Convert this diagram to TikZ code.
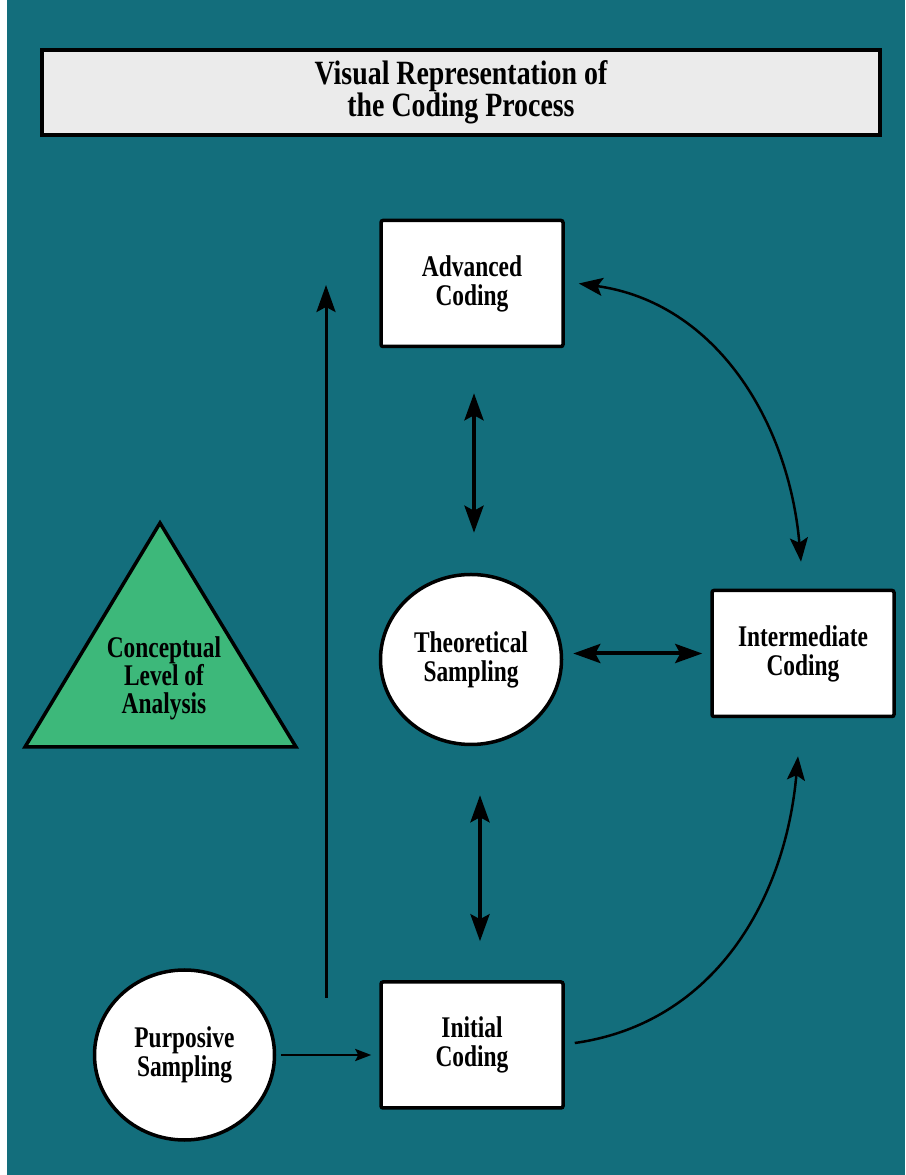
\documentclass[tikz,border=0pt]{standalone}
\usepackage{fontspec}
\setmainfont{Liberation Serif}[FakeStretch=0.78]
\newfontfamily\titlefont{Liberation Serif}[FakeStretch=0.82]
\usetikzlibrary{arrows.meta, positioning, shapes.geometric}

\definecolor{deepteal}{RGB}{19,110,124}
\definecolor{conceptgreen}{RGB}{61,184,122}
\definecolor{titlegray}{RGB}{235,235,235}

\tikzset{
  stage/.style={draw, line width=3.5pt, fill=white, rounded corners=2pt,
    minimum width=182pt, minimum height=126pt, align=center,
    font=\fontsize{30}{29}\selectfont\bfseries},
  sampling/.style={ellipse, draw, line width=3.5pt, fill=white,
    minimum width=181pt, minimum height=170pt, inner sep=0pt, align=center,
    font=\fontsize{30}{29}\selectfont\bfseries},
  dbl/.style={<->, line width=4pt},
  curved/.style={line width=2.5pt, >={Stealth[length=24pt,width=18pt,inset=5pt]}}
}

\begin{document}
\begin{tikzpicture}[x=1pt, y=1pt, >={Stealth[length=27pt,width=19pt,inset=5pt]}]

% define the background
  \fill[white] (0,0) rectangle (905,1175);
  \fill[deepteal] (7,0) rectangle (905,1175);
  \useasboundingbox (0,0) rectangle (905,1175);

% define the title
  \node[draw, line width=3.5pt, fill=titlegray, minimum width=838pt, minimum height=85pt,
        align=center, font=\titlefont\fontsize{34}{29}\selectfont\bfseries] (title)
        at (461,1082.5) {Visual Representation of\\the Coding Process};

% define the stages
  \node[stage]    (init)  at (472,130)
{Initial\\Coding};
  \node[sampling] (theo)  [above=234pt of init, xshift=-1pt]
{Theoretical\\Sampling};
  \node[stage]    (adv)   [above=632pt of init]
{Advanced\\Coding};
  \node[stage]    (inter) [right=147pt of theo, yshift=6pt]
{Intermediate\\Coding};
  \node[sampling, minimum width=180pt] (purp) [left=103pt of init, yshift=-10pt]
{Purposive\\Sampling};

% define the triangle
  \filldraw[fill=conceptgreen, line width=3.5pt, line join=miter]
    (25,428) -- (160,652) -- (296,428) -- cycle;
  \node[align=center, font=\fontsize{30}{28}\selectfont\bfseries] (concept) at (164,497)
{Conceptual\\Level of\\Analysis};

% define the rising arrow
  \coordinate (rise0) at (326,177);
  \coordinate (rise1) at (326,890);

% define the links
  \draw[->, line width=3pt] (rise0) -- (rise1);
  \draw[dbl, shorten <=45pt, shorten >=40pt] ([xshift=2pt]adv.south) -- ([xshift=3pt]theo.north);
  \draw[dbl, shorten <=10pt, shorten >=8pt] (theo.east |- inter.west) -- (inter.west);
  \draw[dbl, shorten <=49pt, shorten >=39pt] ([xshift=9pt]theo.south) -- ([xshift=8pt]init.north);
  \draw[-{Stealth[length=16pt,width=12pt,inset=3pt]}, line width=2.5pt, shorten <=5pt, shorten >=8pt]
    (purp.east) -- (purp.east -| init.west);
  \draw[curved, ->] ([xshift=10pt,yshift=2pt]init.east)
    to[out=8, in=-95] ([xshift=-5pt,yshift=-38pt]inter.south);
  \draw[curved, <->] ([xshift=14pt]adv.east)
    to[out=-8, in=95] ([xshift=-2pt,yshift=27pt]inter.north);

\end{tikzpicture}
\end{document}
